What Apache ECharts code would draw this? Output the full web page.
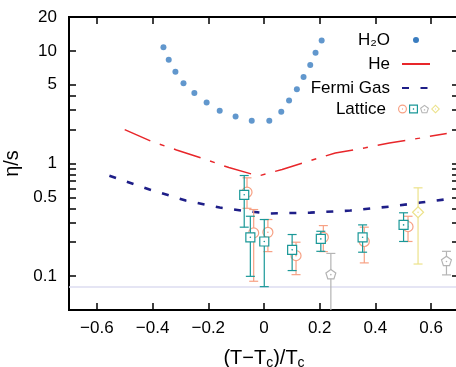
<!DOCTYPE html>
<html><head><meta charset="utf-8">
<script src="https://cdn.jsdelivr.net/npm/echarts@6/dist/echarts.min.js"></script>
<style>html,body{margin:0;padding:0;background:#fff;overflow:hidden}#c{width:456px;height:367px}</style>
</head><body><div id="c"></div>
<script>
// ---- data ----
const xTicks = [-0.6, -0.4, -0.2, 0, 0.2, 0.4, 0.6];
const yTickLabels = [0.1, 0.5, 1, 5, 10, 20];
const yTicks = [0.1, 0.2, 0.3, 0.4, 0.5, 0.6, 0.7, 0.8, 0.9, 1, 2, 3, 4, 5, 10, 20];
const xRange = [-0.7, 0.7];
const yRange = [0.05, 20];
const kssBound = 1 / (4 * Math.PI);

const h2o = [[-0.361,10.8],[-0.342,8.35],[-0.318,6.53],[-0.289,5.17],[-0.250,4.22],[-0.206,3.48],
  [-0.159,2.94],[-0.102,2.61],[-0.044,2.40],[0.019,2.40],[0.062,2.88],[0.090,3.63],[0.118,4.57],
  [0.142,5.87],[0.166,7.51],[0.185,9.64],[0.207,12.4]];
const he = [[-0.50,2.0],[-0.404,1.57],[-0.314,1.32],[-0.216,1.10],[-0.126,0.92],[-0.02,0.775],
  [0.065,0.885],[0.166,1.06],[0.256,1.24],[0.364,1.38],[0.450,1.52],[0.559,1.68],[0.656,1.85]];
const fermi = [[-0.555,0.78],[-0.411,0.587],[-0.281,0.469],[-0.159,0.406],[-0.068,0.378],[0.022,0.36],
  [0.166,0.366],[0.310,0.382],[0.454,0.415],[0.562,0.45],[0.645,0.478]];
// lattice: [x, value, low, high]
const latCircle = [[-0.061,0.556,0.40,0.746],[-0.037,0.242,0.090,0.39],[0.014,0.245,0.165,0.318],
  [0.115,0.152,0.103,0.200],[0.213,0.221,0.165,0.281],[0.360,0.203,0.131,0.272],[0.517,0.275,0.203,0.340]];
const latSquare = [[-0.071,0.527,0.272,0.782],[-0.049,0.221,0.0995,0.34],[0.001,0.203,0.0806,0.318],
  [0.101,0.171,0.112,0.234],[0.204,0.214,0.166,0.25],[0.354,0.221,0.163,0.285],[0.501,0.285,0.203,0.365]];
const latPentagon = [[0.240,0.103,0.03,0.159],[0.655,0.135,0.1025,0.166]];
const latDiamond = [[0.553,0.369,0.128,0.608]];

// ---- styling ----
const FONT = '"Liberation Sans", Arial, Helvetica, "DejaVu Sans", sans-serif';
const C_H2O = '#3a7dc0', C_HE = '#e8262a', C_FG = '#1e1e88';
const C_CIR = '#f7a184', C_SQ = '#1a9898', C_PEN = '#b4b4b4', C_DIA = '#ece28a';

function markerChildren(kind, cx, cy, color) {
  const st = { stroke: color, fill: '#fff', lineWidth: 1.2 };
  const out = [];
  if (kind === 'circle') out.push({ type: 'circle', shape: { cx, cy, r: 5 }, style: st });
  else if (kind === 'square') out.push({ type: 'rect', shape: { x: cx - 4.5, y: cy - 4.5, width: 9, height: 9 }, style: st });
  else if (kind === 'pentagon') {
    const pts = [];
    for (let i = 0; i < 5; i++) { const a = -Math.PI / 2 + i * 2 * Math.PI / 5; pts.push([cx + 5.2 * Math.cos(a), cy + 5.2 * Math.sin(a)]); }
    out.push({ type: 'polygon', shape: { points: pts }, style: st });
  } else {
    out.push({ type: 'polygon', shape: { points: [[cx, cy - 5.5], [cx + 5.5, cy], [cx, cy + 5.5], [cx - 5.5, cy]] }, style: st });
  }
  out.push({ type: 'circle', shape: { cx, cy, r: 0.8 }, style: { fill: color } });
  return out;
}
function makeRender(kind, color) {
  return function (params, api) {
    const x = api.value(0);
    const c = api.coord([x, api.value(1)]);
    const lo = api.coord([x, api.value(2)]);
    const hi = api.coord([x, api.value(3)]);
    const ls = { stroke: color, lineWidth: 1.2 };
    const w = 4.5;
    const children = [
      { type: 'line', shape: { x1: c[0], y1: lo[1], x2: c[0], y2: hi[1] }, style: ls },
      { type: 'line', shape: { x1: c[0] - w, y1: lo[1], x2: c[0] + w, y2: lo[1] }, style: ls },
      { type: 'line', shape: { x1: c[0] - w, y1: hi[1], x2: c[0] + w, y2: hi[1] }, style: ls }
    ].concat(markerChildren(kind, c[0], c[1], color));
    return { type: 'group', children };
  };
}
function latticeSeries(name, data, kind, color) {
  return {
    name, type: 'custom', data, clip: true, xAxisIndex: 0, yAxisIndex: 0,
    encode: { x: 0, y: [1, 2, 3] }, itemStyle: { color },
    renderItem: makeRender(kind, color), z: 5
  };
}
// legend icon paths (ring + center dot); H2O dot padded to a 28-wide box by a zero-area line
const ICON_DOT = 'path://M0,7L28,7M11,7A3,3 0 1,1 17,7A3,3 0 1,1 11,7Z';
const ICON_CIR = 'path://M5,0A5,5 0 1,1 5,10A5,5 0 1,1 5,0ZM5,1.3A3.7,3.7 0 1,0 5,8.7A3.7,3.7 0 1,0 5,1.3ZM5,4.3A0.7,0.7 0 1,1 5,5.7A0.7,0.7 0 1,1 5,4.3Z';
const ICON_SQ = 'path://M0,0L10,0L10,10L0,10ZM1.3,1.3L1.3,8.7L8.7,8.7L8.7,1.3ZM4.3,4.3L5.7,4.3L5.7,5.7L4.3,5.7Z';
const ICON_PEN = 'path://M5,0.2L9.76,3.65L7.94,9.25L2.06,9.25L0.24,3.65ZM5,1.6L1.57,4.1L2.88,8.1L7.12,8.1L8.43,4.1ZM4.3,5L5.7,5L5.7,6.2L4.3,6.2Z';
const ICON_DIA = 'path://M5,0L10,5L5,10L0,5ZM5,1.6L1.6,5L5,8.4L8.4,5ZM4.4,4.4L5.6,4.4L5.6,5.6L4.4,5.6Z';

const fmtX = v => (Math.abs(v) < 1e-9 ? '0' : (v < 0 ? '\u2212' + Math.abs(v).toFixed(1) : v.toFixed(1)));
const fmtY = v => String(+Number(v).toPrecision(6));

const tickStyle = { color: '#000', width: 1.5 };
const legendText = { fontFamily: FONT, fontSize: 17, color: '#000', padding: [0, 7, 0, 0] };
const noLine = { show: false, onZero: false };

const option = {
  animation: false,
  backgroundColor: '#fff',
  grid: { left: 69, right: -3, top: 17, bottom: 57, containLabel: false, outerBoundsMode: 'none',
    show: true, borderColor: '#000', borderWidth: 2, backgroundColor: 'transparent' },
  xAxis: [
    { type: 'value', min: xRange[0], max: xRange[1], position: 'bottom',
      axisLine: noLine, splitLine: { show: false },
      name: '(T\u2212T{sub|c})/T{sub|c}', nameLocation: 'middle', nameGap: 37,
      nameTextStyle: { fontFamily: FONT, fontSize: 20, color: '#000',
        rich: { sub: { fontFamily: FONT, fontSize: 14, padding: [9, 0, 0, 0] } } },
      axisTick: { show: true, inside: true, length: 7, customValues: xTicks, lineStyle: tickStyle },
      axisLabel: { customValues: xTicks, formatter: fmtX, fontFamily: FONT, fontSize: 17, color: '#000', margin: 10 } },
    { type: 'value', min: xRange[0], max: xRange[1], position: 'top',
      axisLine: noLine, splitLine: { show: false },
      axisTick: { show: true, inside: true, length: 7, customValues: xTicks, lineStyle: tickStyle },
      axisLabel: { show: false } }
  ],
  yAxis: [
    { type: 'log', logBase: 10, min: yRange[0], max: yRange[1], position: 'left',
      axisLine: noLine, splitLine: { show: false },
      name: '\u03b7/s', nameLocation: 'middle', nameRotate: 90, nameGap: 45,
      nameTextStyle: { fontFamily: FONT, fontSize: 20, color: '#000' },
      axisTick: { show: true, inside: true, length: 7, customValues: yTicks, lineStyle: tickStyle },
      minorTick: { show: false },
      axisLabel: { customValues: yTickLabels, formatter: fmtY, fontFamily: FONT, fontSize: 17, color: '#000', margin: 12 } },
    { type: 'log', logBase: 10, min: yRange[0], max: yRange[1], position: 'right',
      axisLine: noLine, splitLine: { show: false },
      axisTick: { show: true, inside: true, length: 7, customValues: yTicks, lineStyle: tickStyle },
      axisLabel: { show: false } }
  ],
  legend: [
    { orient: 'vertical', align: 'right', right: 25, top: 31.5, padding: 0, itemWidth: 28, itemHeight: 14, itemGap: 7,
      data: [{ name: 'H\u2082O', icon: ICON_DOT, itemStyle: { color: C_H2O, opacity: 1 } }, 'He', 'Fermi Gas'],
      textStyle: legendText, selectedMode: false,
      itemStyle: { color: 'transparent', borderWidth: 0, opacity: 0 } },
    { orient: 'horizontal', align: 'right', right: 16, top: 100.5, padding: 0, itemWidth: 9, itemHeight: 9, itemGap: 2,
      data: [{ name: 'Lattice', icon: ICON_CIR }, { name: 'Lattice2', icon: ICON_SQ },
             { name: 'Lattice3', icon: ICON_PEN }, { name: 'Lattice4', icon: ICON_DIA }],
      formatter: n => (n === 'Lattice' ? 'Lattice' : ''), textStyle: legendText, selectedMode: false }
  ],
  series: [
    { name: 'He', type: 'line', data: he, showSymbol: false, symbol: 'none', z: 3,
      lineStyle: { color: C_HE, width: 1.5, type: [28, 10, 5, 10] }, itemStyle: { color: C_HE },
      markLine: { silent: true, symbol: 'none', label: { show: false }, z: 1,
        lineStyle: { color: '#dcdcf0', width: 1.5, type: 'solid' }, data: [{ yAxis: kssBound }] } },
    { name: 'Fermi Gas', type: 'line', data: fermi, showSymbol: false, symbol: 'none', z: 3,
      lineStyle: { color: C_FG, width: 2.6, type: [7, 11.5] }, itemStyle: { color: C_FG } },
    latticeSeries('Lattice', latCircle, 'circle', C_CIR),
    latticeSeries('Lattice2', latSquare, 'square', C_SQ),
    latticeSeries('Lattice3', latPentagon, 'pentagon', C_PEN),
    latticeSeries('Lattice4', latDiamond, 'diamond', C_DIA),
    { name: 'H\u2082O', type: 'scatter', data: h2o, symbol: 'circle', symbolSize: 6, z: 4,
      itemStyle: { color: C_H2O } }
  ]
};
const chart = echarts.init(document.getElementById('c'), null, { renderer: 'canvas' });
chart.setOption(option);
</script></body></html>
